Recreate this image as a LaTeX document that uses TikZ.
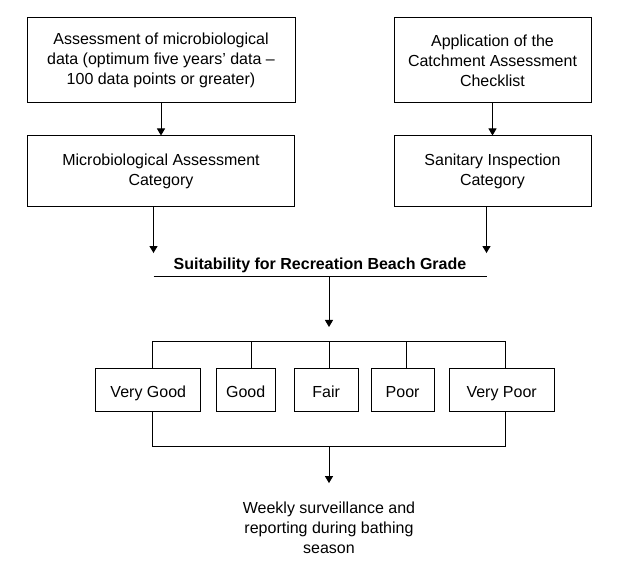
\documentclass[tikz,border=0pt]{standalone}
\usepackage{fontspec}
\setmainfont{Liberation Sans}
\usetikzlibrary{arrows.meta,positioning}
\tikzset{
    %Define standard arrow tip
    >={Triangle[length=5.25pt,width=6pt]},
    %Define style for boxes
    stage/.style={
           rectangle,
           draw=black, line width=0.75pt,
           align=center,
           font=\fontsize{12}{15}\selectfont,
           inner sep=2pt},
    grade/.style={
           rectangle,
           draw=black, line width=0.75pt,
           minimum height=32.25pt,
           text height=11.5pt, text depth=1.3pt,
           font=\fontsize{12}{15}\selectfont,
           text centered},
    gradetitle/.style={
           minimum width=249pt,
           inner sep=3pt,
           font=\bfseries\fontsize{12}{15}\selectfont},
    % Define arrow style
    pil/.style={
           ->,
           line width=0.75pt},
}
\begin{document}
\begin{tikzpicture}[x=0.75pt,y=-0.75pt,line width=0.75pt]
\useasboundingbox (0,0) rectangle (619,574);
\node[stage, minimum width=201pt, minimum height=63.75pt] (data) at (161,60.5)
  {Assessment of microbiological\\data (optimum five years' data --\\100 data points or greater)};
\node[stage, minimum width=200.25pt, minimum height=53.25pt, below=24pt of data] (mcat)
  {Microbiological Assessment\\Category};
\node[stage, minimum width=147.75pt, minimum height=63.75pt, right=73.5pt of data] (check)
  {Application of the\\Catchment Assessment\\Checklist};
\node[stage, minimum width=147.75pt, minimum height=53.25pt, below=24pt of check] (sancat)
  {Sanitary Inspection\\Category};
\node[gradetitle] (grade) at (320,265) {Suitability for Recreation Beach Grade};
% grades
\node[grade, minimum width=78.75pt] (vgood) at (148.3,390.5) {Very Good};
\node[grade, minimum width=44.25pt, right=10.75pt of vgood] (good) {Good};
\node[grade, minimum width=48pt, right=13.5pt of good] (fair) {Fair};
\node[grade, minimum width=47.25pt, right=9pt of fair] (poor) {Poor};
\node[grade, minimum width=78.75pt, right=10.5pt of poor] (vpoor) {Very Poor};
\node[align=center, inner sep=3pt, font=\fontsize{12}{15}\selectfont] (weekly) at (329,527.5)
  {Weekly surveillance and\\reporting during bathing\\season};
\coordinate (split) at (329,327);
\coordinate (top) at (0,341.7);
\coordinate (bottom) at (0,447);
% connectors
\draw[pil] (data) -- (mcat);
\draw[pil] (check) -- (sancat);
\draw[pil] (mcat.south -| grade.west) -- (grade.north west);
\draw[pil] (sancat.south -| grade.east) -- (grade.north east);
\draw (grade.south west) -- (grade.south east);
\draw[pil] (grade.south -| split) -- (split);
\draw ([xshift=3.5pt]vgood.north) |- ([xshift=2.6pt]vpoor.north |- top) -- ([xshift=2.6pt]vpoor.north);
\foreach \n/\dx in {good/4.1pt,fair/2.25pt,poor/2.6pt}
  \draw ([xshift=\dx]\n.north) -- ([xshift=\dx]\n.north |- top);
\draw ([xshift=3.5pt]vgood.south) |- ([xshift=2.6pt]vpoor.south |- bottom) -- ([xshift=2.6pt]vpoor.south);
\draw[pil] (weekly.north |- bottom) -- ([yshift=10.5pt]weekly.north);
\end{tikzpicture}
\end{document}
